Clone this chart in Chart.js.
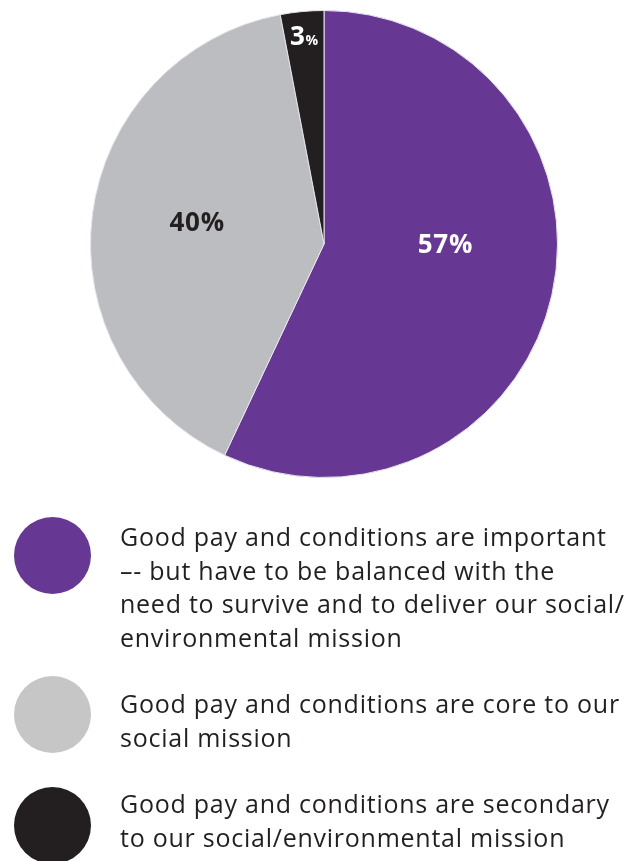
<!DOCTYPE html>
<html>
<head>
<meta charset="utf-8">
<script src="https://cdn.jsdelivr.net/npm/chart.js@4/dist/chart.umd.min.js"></script>
<style>
  html, body { margin: 0; padding: 0; background: #fff; }
  body { position: relative; width: 634px; height: 861px; overflow: hidden; font-family: 'Open Sans', sans-serif; color: #231f20; }
  #pie-wrap { position: absolute; left: 0; top: 0; width: 634px; height: 488px; }
  #legend { position: absolute; left: 0; top: 0; width: 634px; height: 861px; }
  .dot { position: absolute; left: 14px; width: 77px; height: 77px; border-radius: 50%; }
  .txt { position: absolute; left: 120px; width: 514px; font-size: 25px; line-height: 33.5px; letter-spacing: 0.75px; white-space: nowrap; }
</style>
</head>
<body>
<div id="pie-wrap"><canvas id="pie"></canvas></div>
<div id="legend"></div>
<script>
// survey answers, shares in percent
const labels = [
  'Good pay and conditions are important<br>–- but have to be balanced with the<br>need to survive and to deliver our social/<br>environmental mission',
  'Good pay and conditions are core to our<br>social mission',
  'Good pay and conditions are secondary<br>to our social/environmental mission'
];
const values = [57, 40, 3];
const colors = ['#663893', '#bcbdc0', '#231f20'];
const dotColors = ['#663893', '#c6c6c6', '#231f20'];
const labelColors = ['#ffffff', '#231f20', '#ffffff'];

// label placement inside each slice: fraction of radius, angle tweak (deg)
const labelRadius = [0.52, 0.55, 0.89];
const labelTurn = [-12, 2, 0];

// legend rows (top of circle, top of text)
const legendRows = [[517, 520], [676, 687], [787, 787]];

const leg = document.getElementById('legend');
labels.forEach((l, i) => {
  leg.insertAdjacentHTML('beforeend',
    '<div class="dot" style="top:' + legendRows[i][0] + 'px;background:' + dotColors[i] + '"></div>' +
    '<div class="txt" style="top:' + legendRows[i][1] + 'px">' + l + '</div>');
});

const sliceLabels = {
  id: 'sliceLabels',
  afterDatasetsDraw(chart) {
    const ctx = chart.ctx;
    const meta = chart.getDatasetMeta(0);
    meta.data.forEach((arc, i) => {
      const p = arc.getProps(['x', 'y', 'startAngle', 'endAngle', 'outerRadius'], true);
      const a = (p.startAngle + p.endAngle) / 2 + labelTurn[i] * Math.PI / 180;
      const r = p.outerRadius * labelRadius[i];
      const x = p.x + Math.cos(a) * r;
      const y = p.y + Math.sin(a) * r;
      ctx.save();
      ctx.fillStyle = labelColors[i];
      ctx.textBaseline = 'middle';
      ctx.letterSpacing = '0.8px';
      const num = String(values[i]);
      if (values[i] < 10) {
        // small slice: shrink the percent sign
        ctx.font = 'bold 26px "Open Sans"';
        const w1 = ctx.measureText(num).width;
        ctx.font = 'bold 14px "Open Sans"';
        const w2 = ctx.measureText('%').width;
        const x0 = x - (w1 + w2) / 2;
        ctx.textAlign = 'left';
        ctx.font = 'bold 26px "Open Sans"';
        ctx.fillText(num, x0, y);
        ctx.font = 'bold 14px "Open Sans"';
        ctx.fillText('%', x0 + w1, y + 4);
      } else {
        ctx.font = 'bold 26px "Open Sans"';
        ctx.textAlign = 'center';
        ctx.fillText(num + '%', x, y);
      }
      ctx.restore();
    });
  }
};

new Chart(document.getElementById('pie'), {
  type: 'pie',
  data: {
    labels: labels,
    datasets: [{
      data: values,
      backgroundColor: colors,
      borderColor: '#e8e4ee',
      borderWidth: 1
    }]
  },
  options: {
    responsive: true,
    maintainAspectRatio: false,
    animation: false,
    layout: { padding: { top: 10, bottom: 10, left: 14, right: 0 } },
    plugins: {
      legend: { display: false },
      tooltip: { enabled: false }
    }
  },
  plugins: [sliceLabels]
});
</script>
</body>
</html>
